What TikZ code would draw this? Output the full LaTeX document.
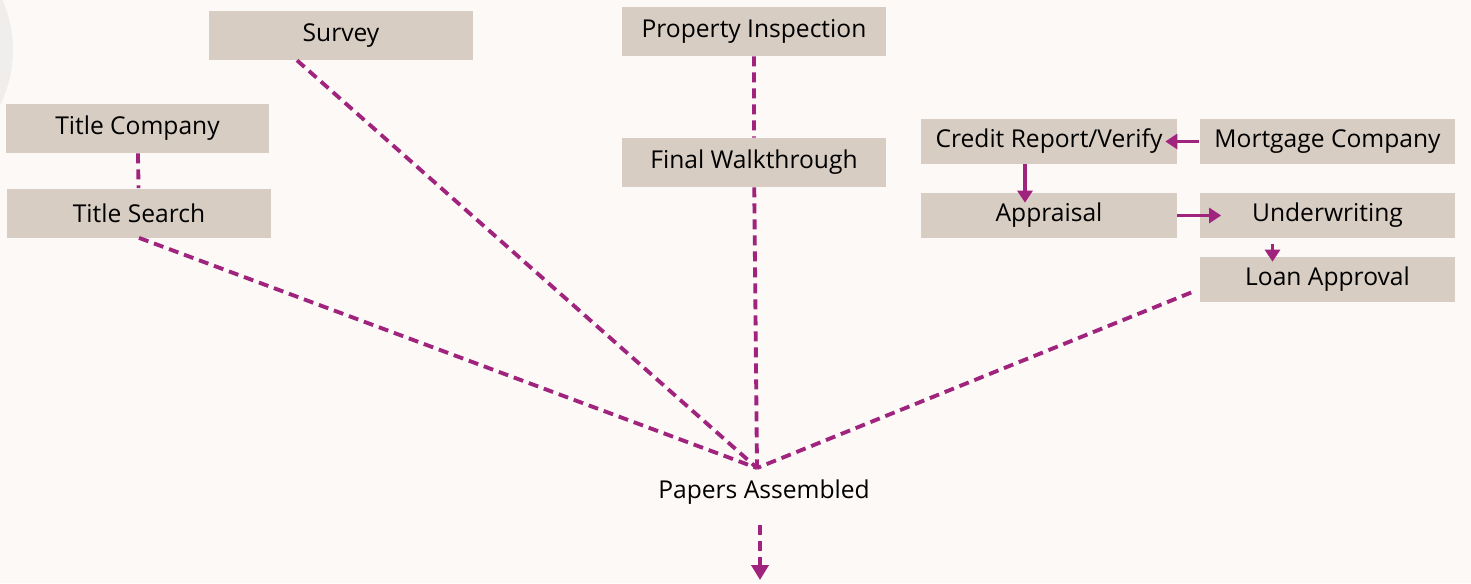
\documentclass[tikz,border=0pt]{standalone}
\usepackage{fontspec}
\setmainfont{Open Sans}
\usepackage{xcolor}
\usetikzlibrary{arrows.meta, calc, positioning}

\definecolor{paper}{HTML}{FCF9F7}
\definecolor{boxfill}{HTML}{D7CDC2}
\definecolor{plum}{HTML}{A0237D}
\definecolor{ghost}{HTML}{F0EEEC}

\tikzset{
    stage/.style={fill=boxfill, minimum width=5.28cm, minimum height=0.98cm, inner sep=0pt, font=\fontsize{14}{16}\selectfont},
    stagesm/.style={stage, minimum width=5.12cm, minimum height=0.9cm},
    link/.style={plum, line width=2.2pt, dash pattern=on 0.2cm off 0.12cm},
    flow/.style={plum, line width=2.2pt, -{Triangle[length=0.24cm, width=0.3cm]}},
}

\begin{document}
\begin{tikzpicture}[x=0.02cm, y=-0.02cm]
                    \useasboundingbox (0, 0) rectangle (1471, 583);
                    \fill[paper] (0, 0) rectangle (1471, 583);
                    \begin{scope}
                        \clip (0, 0) rectangle (1471, 583);
                        \fill[ghost] (-110, 50) circle[radius=2.46cm];
                    \end{scope}

                    \node[stage] (survey) at (341, 35.5) {Survey};
                    \node[stage] (pinsp) at (754, 31.5) {Property Inspection};
                    \node[stage] (fwalk) at (754, 162.5) {Final Walkthrough};
                    \node[stage] (tcomp) at (137.5, 128.5) {Title Company};
                    \node[stage] (tsearch) at (139, 213) {Title Search};

                    \node[stagesm] (credit) at (1049, 141.5) {Credit Report/Verify};
                    \node[stagesm] (mortgage) at (1327.5, 141.5) {Mortgage Company};
                    \node[stagesm] (appraisal) at (1049, 215.5) {Appraisal};
                    \node[stagesm] (underwr) at (1327.5, 215.5) {Underwriting};
                    \node[stagesm] (loan) at (1327.5, 279.5) {Loan Approval};

                    \node[font=\fontsize{14}{16}\selectfont] (papers) at (764, 492) {Papers Assembled};
                    \coordinate (fan) at (757, 468);
                    \coordinate (sink) at (760, 580);

                    \draw[link]
                    (tcomp) -- (tsearch)
                    (tsearch.south) -- (fan)
                    ($(survey.south) + (-44, 0)$) -- (fan)
                    (pinsp) -- (fwalk)
                    (fwalk) -- (fan)
                    ($(loan.west) + (-8, 13)$) -- (fan);

                    \draw[link, -{Triangle[length=0.3cm, width=0.34cm]}]
                    ($(papers.south -| sink) + (0, 14)$) -- (sink);

                    \draw[flow] (mortgage.west) -- ($(credit.east) + (-12, 0)$);
                    \draw[flow] ($(credit.south) + (-24, 0)$) -- ($(appraisal.north) + (-24, 10)$);
                    \draw[flow] (appraisal.east) -- ($(underwr.west) + (22, 0)$);
                    \draw[flow] ($(underwr.south) + (-55, 6)$) -- ($(loan.north) + (-55, 5)$);
                \end{tikzpicture}
\end{document}
